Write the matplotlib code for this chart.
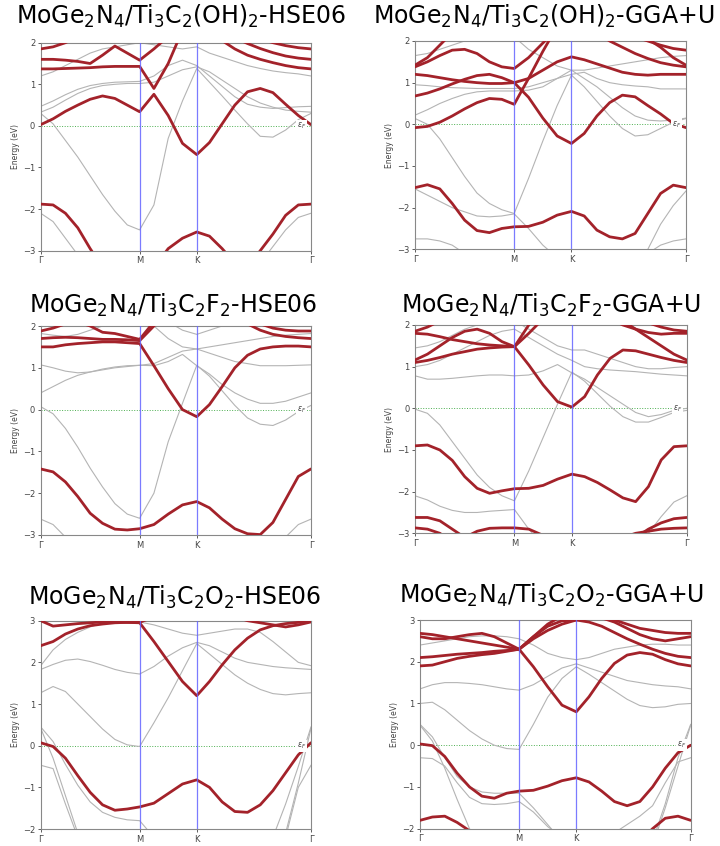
import numpy as np
import matplotlib.pyplot as plt

# k-path G-M-K-G of the hexagonal cell (segment lengths 1, 1/sqrt3, 2/sqrt3)
seg = [1.0, 1 / np.sqrt(3), 2 / np.sqrt(3)]
nodes = np.concatenate([[0], np.cumsum(seg)])
k = np.concatenate([np.linspace(nodes[0], nodes[1], 9),
                    np.linspace(nodes[1], nodes[2], 5)[1:],
                    np.linspace(nodes[2], nodes[3], 10)[1:]])
klabels = ['Γ', 'M', 'K', 'Γ']

titles = [r'MoGe$_2$N$_4$/Ti$_3$C$_2$(OH)$_2$-HSE06',
          r'MoGe$_2$N$_4$/Ti$_3$C$_2$(OH)$_2$-GGA+U',
          r'MoGe$_2$N$_4$/Ti$_3$C$_2$F$_2$-HSE06',
          r'MoGe$_2$N$_4$/Ti$_3$C$_2$F$_2$-GGA+U',
          r'MoGe$_2$N$_4$/Ti$_3$C$_2$O$_2$-HSE06',
          r'MoGe$_2$N$_4$/Ti$_3$C$_2$O$_2$-GGA+U']
ylims = [(-3, 2), (-3, 2), (-3, 2), (-3, 2), (-2, 3), (-2, 3)]

# energies (eV) read along the path: 9 pts G-M, 4 pts M-K, 9 pts K-G
oh_hse_red = [
    [0.03, 0.17, 0.35, 0.5, 0.64, 0.72, 0.66, 0.5, 0.34, 0.76, 0.25, -0.42, -0.69, -0.4, 0.05, 0.5, 0.82, 0.9, 0.8, 0.52, 0.25, 0.03],
    [1.37, 1.37, 1.38, 1.39, 1.4, 1.42, 1.43, 1.43, 1.43, 0.9, 1.5, 2.3, 2.6, 2.3, 2.05, 1.85, 1.7, 1.6, 1.52, 1.45, 1.4, 1.37],
    [1.6, 1.6, 1.58, 1.55, 1.5, 1.7, 1.92, 1.75, 1.58, 1.85, 2.15, 2.45, 2.7, 2.5, 2.3, 2.12, 1.98, 1.86, 1.76, 1.68, 1.63, 1.6],
    [1.85, 1.9, 2.0, 2.15, 2.3, 2.4, 2.5, 2.5, 2.5, 2.5, 2.5, 2.5, 2.5, 2.5, 2.45, 2.35, 2.25, 2.1, 2.0, 1.93, 1.88, 1.85],
    [-1.88, -1.9, -2.1, -2.45, -2.95, -3.4, -3.6, -3.7, -3.7, -3.4, -2.95, -2.7, -2.55, -2.65, -2.95, -3.3, -3.4, -3.0, -2.6, -2.15, -1.9, -1.88],
]
oh_hse_gray = [
    [0.3, 0.05, -0.35, -0.75, -1.2, -1.65, -2.05, -2.38, -2.5, -1.9, -0.3, 0.6, 1.38, 1.05, 0.72, 0.38, 0.05, -0.25, -0.27, -0.1, 0.15, 0.3],
    [0.47, 0.6, 0.75, 0.88, 0.97, 1.02, 1.05, 1.06, 1.07, 1.2, 1.45, 1.58, 1.45, 1.2, 0.95, 0.7, 0.52, 0.45, 0.42, 0.44, 0.46, 0.47],
    [0.33, 0.45, 0.62, 0.78, 0.9, 0.97, 1.0, 1.02, 1.02, 1.05, 1.2, 1.35, 1.42, 1.3, 1.1, 0.9, 0.7, 0.55, 0.45, 0.38, 0.35, 0.33],
    [-2.1, -2.3, -2.7, -3.1, -3.4, -3.5, -3.5, -3.5, -3.5, -3.5, -3.5, -3.5, -3.5, -3.5, -3.5, -3.5, -3.5, -3.3, -2.9, -2.5, -2.2, -2.1],
    [1.2, 1.3, 1.45, 1.6, 1.75, 1.85, 1.9, 1.95, 2.0, 1.95, 1.9, 1.85, 1.9, 1.75, 1.65, 1.55, 1.45, 1.38, 1.32, 1.28, 1.25, 1.2],
]

oh_gga_red = [
    [-0.08, -0.05, 0.05, 0.2, 0.37, 0.52, 0.62, 0.6, 0.48, 1.1, 1.75, 2.35, 2.8, 2.75, 2.6, 2.4, 2.25, 2.1, 2.0, 1.9, 1.82, 1.78],
    [0.68, 0.75, 0.85, 0.97, 1.08, 1.17, 1.2, 1.12, 1.0, 0.65, 0.15, -0.28, -0.46, -0.22, 0.2, 0.52, 0.7, 0.66, 0.45, 0.25, 0.02, -0.08],
    [1.2, 1.17, 1.12, 1.07, 1.03, 1.0, 0.98, 0.98, 1.0, 1.1, 1.3, 1.5, 1.62, 1.55, 1.45, 1.35, 1.25, 1.2, 1.18, 1.2, 1.2, 1.2],
    [1.38, 1.5, 1.65, 1.78, 1.8, 1.7, 1.5, 1.38, 1.34, 1.6, 1.95, 2.3, 2.5, 2.5, 2.2, 2.0, 1.85, 1.7, 1.58, 1.48, 1.42, 1.38],
    [1.42, 1.6, 1.9, 2.2, 2.4, 2.5, 2.5, 2.5, 2.5, 2.5, 2.5, 2.5, 2.5, 2.5, 2.5, 2.5, 2.4, 2.25, 2.05, 1.85, 1.6, 1.42],
    [-1.52, -1.45, -1.55, -1.9, -2.3, -2.55, -2.6, -2.5, -2.46, -2.45, -2.35, -2.18, -2.09, -2.2, -2.54, -2.7, -2.75, -2.62, -2.14, -1.66, -1.46, -1.52],
]
oh_gga_gray = [
    [0.14, 0.0, -0.35, -0.8, -1.25, -1.65, -1.9, -2.05, -2.14, -1.3, -0.4, 0.45, 1.18, 0.9, 0.55, 0.2, -0.1, -0.28, -0.25, -0.1, 0.05, 0.14],
    [-1.55, -1.7, -1.85, -2.0, -2.1, -2.2, -2.22, -2.2, -2.15, -2.5, -2.9, -3.2, -3.3, -3.3, -3.3, -3.3, -3.3, -3.3, -3.0, -2.4, -1.95, -1.6],
    [0.22, 0.35, 0.5, 0.62, 0.72, 0.78, 0.8, 0.8, 0.8, 0.82, 0.9, 1.1, 1.3, 1.1, 0.9, 0.65, 0.4, 0.2, 0.1, 0.08, 0.1, 0.15],
    [0.95, 0.93, 0.9, 0.88, 0.87, 0.86, 0.86, 0.86, 0.86, 0.9, 1.0, 1.1, 1.2, 1.25, 1.1, 1.0, 0.95, 0.92, 0.9, 0.85, 0.85, 0.85],
    [1.65, 1.7, 1.8, 1.9, 2.0, 2.05, 2.1, 2.1, 2.1, 1.8, 1.6, 1.4, 1.3, 1.3, 1.35, 1.4, 1.45, 1.5, 1.55, 1.6, 1.63, 1.65],
    [-2.75, -2.75, -2.8, -2.9, -3.1, -3.3, -3.4, -3.4, -3.4, -3.4, -3.4, -3.4, -3.4, -3.4, -3.4, -3.4, -3.4, -3.3, -3.1, -2.9, -2.8, -2.75],
]

f_hse_red = [
    [1.5, 1.5, 1.55, 1.58, 1.6, 1.62, 1.62, 1.6, 1.58, 1.05, 0.5, 0.0, -0.17, 0.12, 0.55, 1.0, 1.3, 1.45, 1.5, 1.52, 1.52, 1.5],
    [1.7, 1.72, 1.73, 1.72, 1.7, 1.68, 1.68, 1.67, 1.65, 2.0, 2.4, 2.6, 2.7, 2.6, 2.4, 2.2, 2.05, 1.9, 1.8, 1.75, 1.72, 1.7],
    [1.88, 1.95, 2.05, 2.1, 2.0, 1.85, 1.82, 1.75, 1.68, 2.1, 2.5, 2.7, 2.8, 2.7, 2.5, 2.3, 2.15, 2.05, 1.95, 1.9, 1.88, 1.88],
    [-1.42, -1.49, -1.73, -2.08, -2.48, -2.72, -2.86, -2.88, -2.85, -2.75, -2.5, -2.28, -2.2, -2.35, -2.62, -2.85, -2.97, -2.99, -2.7, -2.15, -1.6, -1.42],
]
f_hse_gray = [
    [0.07, -0.1, -0.45, -0.9, -1.4, -1.85, -2.25, -2.5, -2.6, -2.0, -0.77, 0.15, 1.06, 0.8, 0.45, 0.1, -0.2, -0.35, -0.38, -0.25, -0.05, 0.1],
    [0.4, 0.55, 0.7, 0.82, 0.9, 0.97, 1.02, 1.05, 1.06, 1.05, 1.15, 1.32, 1.05, 0.85, 0.6, 0.4, 0.25, 0.15, 0.15, 0.2, 0.3, 0.4],
    [1.07, 1.0, 0.92, 0.88, 0.9, 0.95, 1.0, 1.03, 1.06, 1.1, 1.25, 1.4, 1.45, 1.35, 1.25, 1.15, 1.1, 1.05, 1.05, 1.05, 1.06, 1.07],
    [-2.62, -2.75, -3.05, -3.3, -3.4, -3.4, -3.4, -3.4, -3.4, -3.4, -3.4, -3.4, -3.4, -3.4, -3.4, -3.4, -3.4, -3.4, -3.3, -3.05, -2.75, -2.62],
    [1.82, 1.78, 1.75, 1.8, 1.9, 2.0, 2.1, 2.2, 2.3, 2.0, 1.7, 1.5, 1.45, 1.5, 1.55, 1.6, 1.65, 1.7, 1.75, 1.78, 1.8, 1.82],
    [2.1, 2.2, 2.3, 2.4, 2.5, 2.5, 2.5, 2.5, 2.5, 2.3, 2.1, 1.9, 1.8, 1.9, 2.0, 2.1, 2.2, 2.3, 2.4, 2.4, 2.4, 2.4],
]

f_gga_red = [
    [1.1, 1.15, 1.22, 1.3, 1.36, 1.42, 1.45, 1.47, 1.48, 1.04, 0.56, 0.16, 0.03, 0.28, 0.8, 1.2, 1.4, 1.38, 1.3, 1.22, 1.15, 1.1],
    [1.8, 1.78, 1.72, 1.65, 1.6, 1.55, 1.52, 1.5, 1.48, 1.8, 2.15, 2.4, 2.5, 2.5, 2.3, 2.15, 2.0, 1.9, 1.82, 1.78, 1.8, 1.8],
    [1.16, 1.3, 1.5, 1.7, 1.85, 1.9, 1.8, 1.6, 1.48, 2.0, 2.4, 2.6, 2.7, 2.7, 2.5, 2.3, 2.1, 1.9, 1.7, 1.5, 1.3, 1.16],
    [1.85, 1.95, 2.1, 2.3, 2.5, 2.6, 2.6, 2.6, 2.6, 2.6, 2.6, 2.6, 2.6, 2.6, 2.6, 2.5, 2.35, 2.2, 2.05, 1.95, 1.88, 1.85],
    [-0.9, -0.88, -1.0, -1.25, -1.64, -1.92, -2.04, -1.98, -1.93, -1.92, -1.85, -1.7, -1.58, -1.64, -1.78, -1.96, -2.15, -2.24, -1.88, -1.24, -0.92, -0.9],
    [-2.62, -2.62, -2.7, -2.9, -3.1, -3.3, -3.4, -3.4, -3.4, -3.4, -3.4, -3.4, -3.4, -3.4, -3.4, -3.4, -3.3, -3.1, -2.9, -2.75, -2.65, -2.62],
    [-2.87, -2.9, -3.0, -3.2, -3.1, -2.95, -2.88, -2.87, -2.87, -2.9, -3.05, -3.2, -3.3, -3.3, -3.3, -3.2, -3.1, -3.0, -2.95, -2.9, -2.88, -2.87],
]
f_gga_gray = [
    [-0.02, -0.12, -0.4, -0.8, -1.2, -1.6, -1.9, -2.1, -2.22, -1.5, -0.7, 0.1, 0.87, 0.65, 0.35, 0.05, -0.2, -0.33, -0.33, -0.22, -0.1, -0.05],
    [0.78, 0.7, 0.7, 0.72, 0.75, 0.78, 0.8, 0.8, 0.78, 0.8, 0.9, 1.05, 0.85, 0.7, 0.5, 0.3, 0.1, -0.1, -0.2, -0.15, -0.05, 0.0],
    [1.0, 1.05, 1.15, 1.3, 1.45, 1.6, 1.75, 1.85, 1.9, 1.7, 1.5, 1.3, 1.15, 1.0, 0.95, 0.92, 0.9, 0.88, 0.85, 0.82, 0.8, 0.78],
    [1.45, 1.5, 1.6, 1.75, 1.9, 2.0, 2.1, 2.1, 2.1, 1.9, 1.7, 1.5, 1.4, 1.4, 1.3, 1.2, 1.1, 1.0, 0.95, 0.95, 0.98, 1.0],
    [-2.1, -2.2, -2.35, -2.45, -2.5, -2.5, -2.47, -2.45, -2.43, -2.9, -3.3, -3.5, -3.5, -3.5, -3.5, -3.5, -3.5, -3.3, -3.0, -2.6, -2.25, -2.1],
]

o_hse_red = [
    [3.0, 2.87, 2.9, 2.93, 2.95, 2.97, 2.97, 2.96, 2.95, 2.5, 2.02, 1.54, 1.2, 1.54, 1.94, 2.3, 2.58, 2.78, 2.88, 2.93, 2.96, 3.0],
    [2.4, 2.5, 2.68, 2.8, 2.88, 2.92, 2.95, 2.96, 2.96, 3.1, 3.2, 3.3, 3.3, 3.3, 3.2, 3.1, 3.0, 2.95, 2.9, 2.85, 2.9, 2.97],
    [0.07, -0.02, -0.3, -0.72, -1.12, -1.42, -1.55, -1.52, -1.47, -1.38, -1.15, -0.92, -0.82, -1.0, -1.35, -1.58, -1.6, -1.42, -1.08, -0.65, -0.22, 0.07],
]
o_hse_gray = [
    [1.27, 1.42, 1.3, 1.0, 0.7, 0.4, 0.15, 0.02, -0.02, 0.55, 1.15, 1.8, 2.45, 2.2, 1.95, 1.7, 1.5, 1.35, 1.25, 1.22, 1.25, 1.27],
    [1.83, 1.95, 2.05, 2.08, 2.02, 1.93, 1.83, 1.76, 1.72, 1.9, 2.15, 2.35, 2.48, 2.4, 2.25, 2.1, 2.0, 1.95, 1.9, 1.87, 1.85, 1.83],
    [1.92, 2.3, 2.55, 2.72, 2.85, 2.95, 3.0, 3.0, 2.97, 2.9, 2.8, 2.7, 2.65, 2.7, 2.75, 2.8, 2.8, 2.72, 2.5, 2.25, 2.0, 1.92],
    [0.45, 0.1, -0.45, -0.95, -1.35, -1.6, -1.72, -1.78, -1.8, -2.2, -2.6, -2.8, -2.8, -2.8, -2.8, -2.8, -2.8, -2.6, -2.2, -1.4, -0.5, 0.45],
    [-0.47, -0.55, -1.4, -2.2, -2.5, -2.5, -2.5, -2.5, -2.5, -2.5, -2.5, -2.5, -2.5, -2.5, -2.5, -2.5, -2.5, -2.5, -2.5, -2.2, -1.0, -0.47],
    [0.42, -0.3, -1.2, -2.1, -2.6, -2.6, -2.6, -2.6, -2.6, -2.6, -2.6, -2.6, -2.6, -2.6, -2.6, -2.6, -2.6, -2.6, -2.6, -2.1, -0.9, 0.42],
]

o_gga_red = [
    [1.9, 1.92, 2.0, 2.08, 2.13, 2.17, 2.2, 2.25, 2.3, 1.88, 1.4, 0.96, 0.8, 1.16, 1.6, 1.96, 2.16, 2.22, 2.18, 2.05, 1.95, 1.9],
    [2.1, 2.12, 2.15, 2.18, 2.2, 2.22, 2.25, 2.27, 2.3, 2.6, 2.85, 2.98, 3.0, 2.95, 2.85, 2.7, 2.55, 2.42, 2.3, 2.2, 2.13, 2.1],
    [2.6, 2.55, 2.55, 2.6, 2.65, 2.68, 2.6, 2.45, 2.3, 2.55, 2.75, 2.9, 3.0, 3.1, 3.05, 2.95, 2.8, 2.65, 2.55, 2.5, 2.55, 2.6],
    [2.68, 2.65, 2.6, 2.55, 2.5, 2.45, 2.4, 2.35, 2.3, 2.6, 2.9, 3.1, 3.2, 3.2, 3.1, 3.0, 2.9, 2.8, 2.75, 2.7, 2.68, 2.68],
    [0.03, -0.01, -0.27, -0.67, -1.0, -1.22, -1.27, -1.15, -1.1, -1.08, -0.98, -0.85, -0.78, -0.88, -1.1, -1.35, -1.45, -1.35, -1.0, -0.55, -0.18, 0.0],
    [-1.8, -1.72, -1.7, -1.85, -2.05, -2.3, -2.5, -2.5, -2.5, -2.5, -2.5, -2.5, -2.5, -2.5, -2.5, -2.5, -2.5, -2.3, -2.0, -1.75, -1.7, -1.8],
]
o_gga_gray = [
    [1.0, 1.03, 0.85, 0.6, 0.35, 0.15, 0.0, -0.08, -0.1, 0.5, 1.15, 1.6, 1.88, 1.7, 1.5, 1.3, 1.1, 0.95, 0.9, 0.92, 0.98, 1.0],
    [0.48, 0.1, -0.55, -1.3, -2.0, -2.5, -2.6, -2.6, -2.6, -2.6, -2.6, -2.6, -2.6, -2.6, -2.6, -2.6, -2.6, -2.6, -2.4, -1.5, -0.5, 0.48],
    [-0.3, -0.32, -0.5, -0.9, -1.25, -1.4, -1.42, -1.4, -1.35, -1.6, -1.95, -2.2, -2.4, -2.4, -2.3, -2.1, -1.9, -1.7, -1.45, -0.9, -0.4, -0.3],
    [1.35, 1.45, 1.5, 1.5, 1.48, 1.45, 1.4, 1.35, 1.32, 1.45, 1.65, 1.85, 1.95, 1.85, 1.75, 1.65, 1.55, 1.5, 1.45, 1.42, 1.4, 1.35],
    [2.4, 2.45, 2.5, 2.55, 2.6, 2.62, 2.62, 2.6, 2.55, 2.4, 2.2, 2.1, 2.05, 2.1, 2.2, 2.3, 2.35, 2.4, 2.42, 2.42, 2.4, 2.4],
    [0.5, 0.2, -0.3, -0.75, -1.0, -1.12, -1.15, -1.15, -1.15, -1.5, -1.9, -2.3, -2.6, -2.6, -2.6, -2.6, -2.6, -2.6, -2.3, -1.4, -0.3, 0.5],
]

red_sets = [oh_hse_red, oh_gga_red, f_hse_red, f_gga_red, o_hse_red, o_gga_red]
gray_sets = [oh_hse_gray, oh_gga_gray, f_hse_gray, f_gga_gray, o_hse_gray, o_gga_gray]

# axes boxes (left, top, right, bottom) and title anchors, in pixels of the 720x846 canvas
W, H = 720, 846
boxes = [(40.7, 42.7, 311, 250.7), (415, 41, 686, 249.3),
         (40.7, 326, 311, 535), (415, 325, 686.7, 533.3),
         (40.7, 620.7, 311, 829), (420, 620, 690.7, 828.7)]
title_pos = [(181, 24), (544, 24), (173, 313), (551, 313), (175, 605), (552, 603)]

fig = plt.figure(figsize=(7.2, 8.46), dpi=100)

for i in range(6):
    x0, y0, x1, y1 = boxes[i]
    ax = fig.add_axes([x0 / W, 1 - y1 / H, (x1 - x0) / W, (y1 - y0) / H])
    for band in gray_sets[i]:
        ax.plot(k, band, color='#b4b4b4', lw=0.8, zorder=2)
    for band in red_sets[i]:
        ax.plot(k, band, color='#a3222a', lw=2.0, zorder=3, solid_capstyle='round')
    for kn in nodes[1:3]:
        ax.axvline(kn, color='#6464ff', lw=0.9, alpha=0.85, zorder=4)
    ax.axhline(0, color='#4caf50', ls=':', lw=0.7, zorder=1)
    ax.text(nodes[-1] * 0.966, 0, r'$\epsilon_F$', fontsize=5.5, color='#444444',
            ha='center', va='center', zorder=5,
            bbox=dict(facecolor='white', edgecolor='none', pad=0.6))
    ax.set_xlim(nodes[0], nodes[-1])
    ax.set_ylim(*ylims[i])
    ax.set_yticks(range(ylims[i][0], ylims[i][1] + 1))
    ax.set_xticks(nodes)
    ax.set_xticklabels(klabels)
    ax.set_ylabel('Energy (eV)', fontsize=5.5, color='#444444', labelpad=2)
    ax.tick_params(labelsize=6, colors='#444444', length=2.5, width=0.6, pad=1.5)
    for sp in ax.spines.values():
        sp.set_color('#888888')
        sp.set_linewidth(0.8)
    tx, ty = title_pos[i]
    fig.text(tx / W, 1 - ty / H, titles[i], ha='center', va='baseline', fontsize=17)

fig.savefig('out.png', dpi=100)
